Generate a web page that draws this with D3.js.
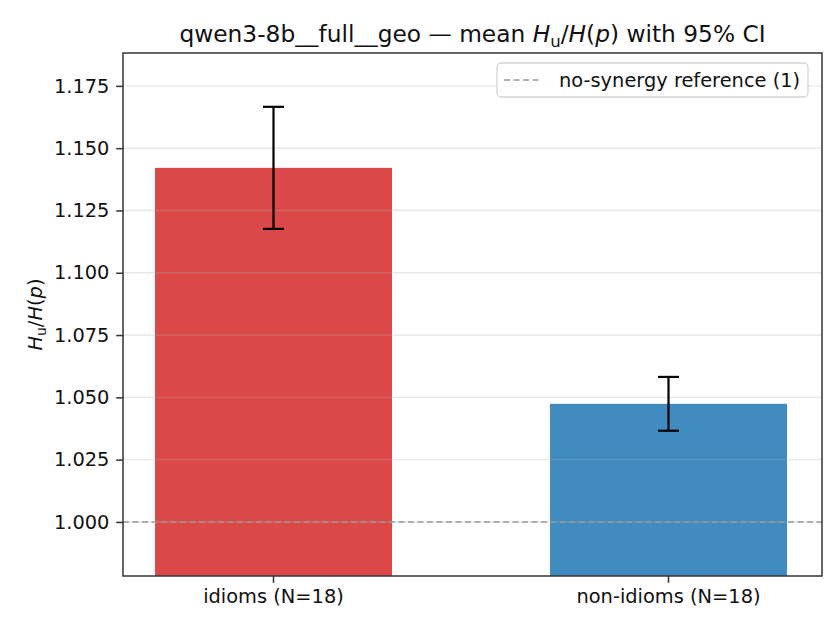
<!DOCTYPE html>
<html>
<head>
<meta charset="utf-8">
<script src="https://cdn.jsdelivr.net/npm/d3@7"></script>
<style>
  body { margin: 0; background: #fff; }
  svg { font-family: 'DejaVu Sans', sans-serif; }
</style>
</head>
<body>
<div id="chart"></div>
<script>
let categories = ['idioms (N=18)', 'non-idioms (N=18)']
let means = [1.1421, 1.0474]
let ciLow = [1.1176, 1.0366]
let ciHigh = [1.1666, 1.0582]
let barColors = ['#d62728', '#1f77b4']
let yTicks = [1.0, 1.025, 1.05, 1.075, 1.1, 1.125, 1.15, 1.175]
let reference = 1.0

let width = 840
let height = 630
let margin = { top: 53, left: 123, right: 18, bottom: 54 }
let fontSize = 19.4

let svg = d3
  .select('#chart')
  .append('svg')
  .attr('width', width)
  .attr('height', height)

let xScale = d3
  .scaleBand()
  .domain(categories)
  .range([margin.left, width - margin.right - 3])
  .paddingInner(0.4)
  .paddingOuter(0.081)

let yScale = d3
  .scaleLinear()
  .domain([0.9783, 1.1882])
  .range([height - margin.bottom, margin.top])

let data = categories.map((c, i) => ({
  name: c,
  mean: means[i],
  lo: ciLow[i],
  hi: ciHigh[i],
  color: barColors[i]
}))

// bars
svg
  .selectAll('.bar')
  .data(data)
  .enter()
  .append('rect')
  .attr('x', d => xScale(d.name))
  .attr('width', xScale.bandwidth())
  .attr('y', d => yScale(d.mean))
  .attr('height', d => yScale(yScale.domain()[0]) - yScale(d.mean))
  .attr('fill', d => d.color)
  .attr('fill-opacity', 0.85)

// grid on top of bars
svg
  .selectAll('.grid')
  .data(yTicks)
  .enter()
  .append('line')
  .attr('x1', margin.left)
  .attr('x2', width - margin.right)
  .attr('y1', d => yScale(d))
  .attr('y2', d => yScale(d))
  .attr('stroke', '#b0b0b0')
  .attr('stroke-opacity', 0.3)
  .attr('stroke-width', 1.4)

// reference line
svg
  .append('line')
  .attr('x1', margin.left)
  .attr('x2', width - margin.right)
  .attr('y1', yScale(reference))
  .attr('y2', yScale(reference))
  .attr('stroke', '#999')
  .attr('stroke-width', 1.6)
  .attr('stroke-dasharray', '6,3.5')

// error bars
let err = svg
  .selectAll('.err')
  .data(data)
  .enter()
  .append('g')
  .attr('transform', d => `translate(${xScale(d.name) + xScale.bandwidth() / 2},0)`)

err
  .append('line')
  .attr('y1', d => yScale(d.lo))
  .attr('y2', d => yScale(d.hi))
  .attr('stroke', 'black')
  .attr('stroke-width', 2.2)

err
  .selectAll('.cap')
  .data(d => [d.lo, d.hi])
  .enter()
  .append('line')
  .attr('x1', -10.5)
  .attr('x2', 10.5)
  .attr('y1', d => yScale(d))
  .attr('y2', d => yScale(d))
  .attr('stroke', 'black')
  .attr('stroke-width', 2.2)

// axes
let yAxis = d3
  .axisLeft(yScale)
  .tickValues(yTicks)
  .tickFormat(d3.format('.3f'))
  .tickSize(6.8)
  .tickPadding(6.8)

let yG = svg
  .append('g')
  .attr('transform', `translate(${margin.left},0)`)
  .call(yAxis)

let xAxis = d3.axisBottom(xScale).tickSize(6.8).tickPadding(6.8)

let xG = svg
  .append('g')
  .attr('transform', `translate(0,${height - margin.bottom})`)
  .call(xAxis)

;[yG, xG].forEach(g => {
  g.select('.domain').remove()
  g.selectAll('.tick line').attr('stroke', '#333').attr('stroke-width', 1.5)
  g.selectAll('.tick text')
    .attr('font-size', fontSize)
    .attr('fill', '#111')
    .attr('font-family', 'DejaVu Sans')
})

// frame
svg
  .append('rect')
  .attr('x', margin.left)
  .attr('y', margin.top)
  .attr('width', width - margin.left - margin.right)
  .attr('height', height - margin.top - margin.bottom)
  .attr('fill', 'none')
  .attr('stroke', '#333')
  .attr('stroke-width', 1.5)

// title
let title = svg
  .append('text')
  .attr('x', (margin.left + width - margin.right) / 2)
  .attr('y', 42)
  .attr('text-anchor', 'middle')
  .attr('font-size', 23.3)
  .attr('fill', '#111')

title.append('tspan').text('qwen3-8b__full__geo — mean ')
title.append('tspan').attr('font-style', 'italic').text('H')
title.append('tspan').attr('font-size', 16.5).attr('dy', 4.5).text('u')
title.append('tspan').attr('dy', -4.5).text('/')
title.append('tspan').attr('font-style', 'italic').text('H')
title.append('tspan').text('(')
title.append('tspan').attr('font-style', 'italic').text('p')
title.append('tspan').text(') with 95% CI')

// y label
let ylabel = svg
  .append('text')
  .attr('transform', `translate(42,${(margin.top + height - margin.bottom) / 2}) rotate(-90)`)
  .attr('text-anchor', 'middle')
  .attr('font-size', fontSize)
  .attr('fill', '#111')

ylabel.append('tspan').attr('font-style', 'italic').text('H')
ylabel.append('tspan').attr('font-size', 13.8).attr('dy', 4).text('u')
ylabel.append('tspan').attr('dy', -4).text('/')
ylabel.append('tspan').attr('font-style', 'italic').text('H')
ylabel.append('tspan').text('(')
ylabel.append('tspan').attr('font-style', 'italic').text('p')
ylabel.append('tspan').text(')')

// legend
let legend = svg.append('g').attr('transform', 'translate(497,63)')

legend
  .append('rect')
  .attr('width', 311)
  .attr('height', 34)
  .attr('rx', 4)
  .attr('fill', 'white')
  .attr('fill-opacity', 0.8)
  .attr('stroke', '#d5d5d5')
  .attr('stroke-width', 1.3)

legend
  .append('line')
  .attr('x1', 7)
  .attr('x2', 45)
  .attr('y1', 17)
  .attr('y2', 17)
  .attr('stroke', '#999')
  .attr('stroke-width', 1.6)
  .attr('stroke-dasharray', '6,3.5')

legend
  .append('text')
  .attr('x', 62)
  .attr('y', 24)
  .attr('font-size', fontSize)
  .attr('fill', '#111')
  .text('no-synergy reference (1)')
</script>
</body>
</html>
